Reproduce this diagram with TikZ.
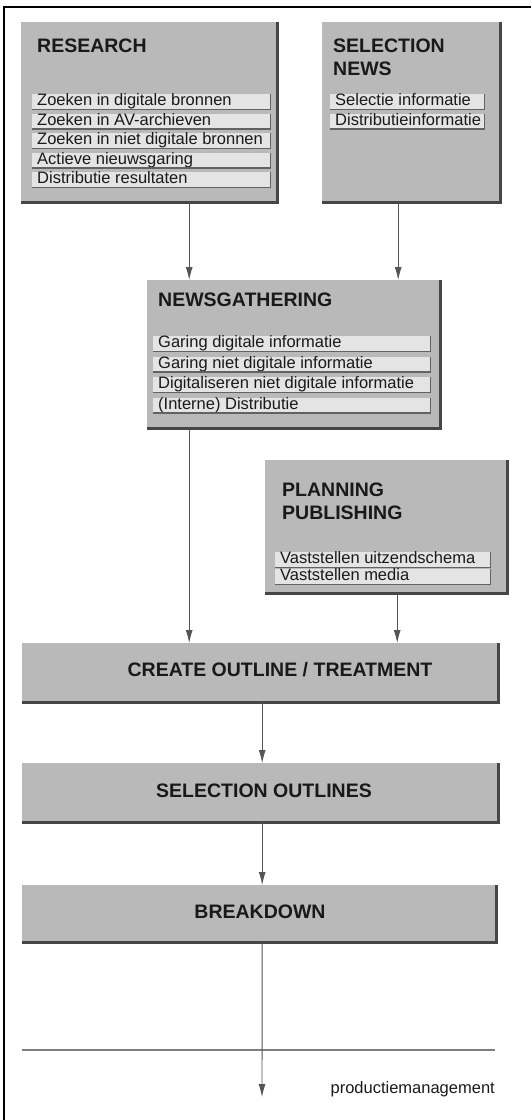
\documentclass[tikz,border=0pt]{standalone}
\usepackage{fontspec}
\setmainfont{Liberation Sans}
\usetikzlibrary{arrows.meta}
\definecolor{boxgray}{RGB}{185,185,185}
\definecolor{itemgray}{RGB}{228,228,228}
\definecolor{shadowgray}{RGB}{70,70,70}
\definecolor{linegray}{RGB}{85,85,85}
\definecolor{inkblack}{RGB}{25,25,25}
\newcommand\mkitem[5]{%
  \node[item, minimum width=#4pt] (#1) at (#2,#3) {\hbox to #4pt{\hspace{5pt}#5\hfil}};
  \draw[itemshadow] (#1.south west) -- (#1.south east) -- (#1.north east);}
\newcommand\mkbox[5]{%
  \node[bigbox, minimum width=#4pt, minimum height=#5pt] (#1) at (#2,#3) {};
  \draw[boxshadow] (#1.south west) -- (#1.south east) -- (#1.north east);}
\begin{document}
\begin{tikzpicture}[x=1pt,y=-1pt,
  bigbox/.style={rectangle, fill=boxgray, inner sep=0pt, anchor=north west},
  boxshadow/.style={draw=shadowgray, line width=2.2pt},
  item/.style={rectangle, fill=itemgray, inner sep=0pt, anchor=north west,
    minimum height=15pt, text height=11.5pt, text depth=3.5pt,
    font=\fontsize{16.5}{18}\selectfont, text=inkblack},
  itemshadow/.style={draw=shadowgray!85, line width=1.2pt},
  title/.style={anchor=north west, inner sep=0pt, align=left,
    font=\fontsize{19.5}{23}\selectfont\bfseries, text=inkblack},
  centertitle/.style={inner sep=0pt, font=\fontsize{19.5}{23}\selectfont\bfseries, text=inkblack},
  arr/.style={draw=linegray, line width=0.9pt, -{Latex[length=13pt,width=7pt]}},
  frame/.style={draw=black, line width=2.5pt}
]
\useasboundingbox (0,0) rectangle (531,1120);
% frame (top and left)
\draw[frame] (531,7) -- (4,7) -- (4,1120);

% RESEARCH
\mkbox{research}{21}{22}{256}{180}
\node[title] (researcht) at (37,39) {RESEARCH};
\mkitem{r1}{32}{94}{238}{Zoeken in digitale bronnen}
\mkitem{r2}{32}{113.5}{238}{Zoeken in AV-archieven}
\mkitem{r3}{32}{133}{238}{Zoeken in niet digitale bronnen}
\mkitem{r4}{32}{152.5}{238}{Actieve nieuwsgaring}
\mkitem{r5}{32}{172}{238}{Distributie resultaten}

% SELECTION NEWS
\mkbox{selnews}{322}{22}{178}{180}
\node[title] (selnewst) at (333,39) {SELECTION\\NEWS};
\mkitem{s1}{330}{94}{154}{Selectie informatie}
\mkitem{s2}{330}{113.5}{154}{Distributieinformatie}

% NEWSGATHERING
\mkbox{newsg}{147}{280}{293}{148}
\node[title] (newsgt) at (158,293) {NEWSGATHERING};
\mkitem{n1}{153}{336}{277}{Garing digitale informatie}
\mkitem{n2}{153}{356.5}{277}{Garing niet digitale informatie}
\mkitem{n3}{153}{377}{277}{Digitaliseren niet digitale informatie}
\mkitem{n4}{153}{397.5}{277}{(Interne) Distributie}

% PLANNING PUBLISHING
\mkbox{planning}{265}{460}{242}{133}
\node[title] (planningt) at (282,483) {PLANNING\\PUBLISHING};
\mkitem{p1}{275}{552}{215}{Vaststellen uitzendschema}
\mkitem{p2}{275}{569}{215}{Vaststellen media}

% wide boxes
\mkbox{create}{22}{643}{476}{59}
\node[centertitle] (createt) at (280,670) {CREATE OUTLINE / TREATMENT};
\mkbox{selout}{22}{763}{476}{59}
\node[centertitle] (selt) at (264,791) {SELECTION OUTLINES};
\mkbox{breakdown}{22}{885}{474}{57}
\node[centertitle] (breakt) at (260,912) {BREAKDOWN};

% separator and label
\draw[draw=gray, line width=1.3pt] (22,1050) -- (495,1050);
\node[anchor=base east, inner sep=0pt, font=\fontsize{16.5}{18}\selectfont, text=inkblack] (pm) at (495,1093) {productiemanagement};
\coordinate (endpt) at (262,1097);

% connectors
\draw[arr] ([xshift=40pt]research.south) -- ([xshift=40pt]research.south |- newsg.north);
\draw[arr] ([xshift=-13pt]selnews.south) -- ([xshift=-13pt]selnews.south |- newsg.north);
\draw[arr] ([xshift=-104.5pt]newsg.south) -- ([xshift=-104.5pt]newsg.south |- create.north);
\draw[arr] ([xshift=11pt]planning.south) -- ([xshift=11pt]planning.south |- create.north);
\draw[arr] ([xshift=2pt]create.south) -- ([xshift=2pt]create.south |- selout.north);
\draw[arr] ([xshift=2pt]selout.south) -- ([xshift=2pt]selout.south |- breakdown.north);
\draw[arr] ([xshift=3pt]breakdown.south) -- (endpt);
\end{tikzpicture}
\end{document}
